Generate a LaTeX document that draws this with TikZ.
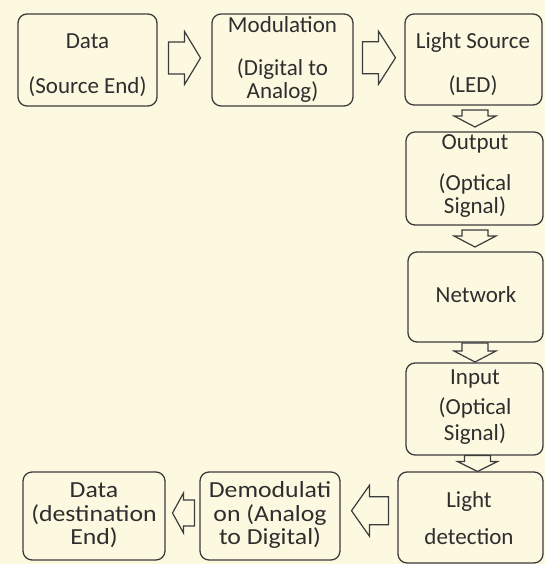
\documentclass[tikz,border=0pt]{standalone}
\usepackage{fontspec}
\setmainfont{Carlito}
\newfontfamily\widefont[FakeStretch=1.12]{Carlito}
\usetikzlibrary{calc}
\definecolor{bgc}{HTML}{FDF9E1}
\definecolor{linec}{HTML}{3C3C3C}
\definecolor{txtc}{HTML}{2E2E2E}
\tikzset{
  box/.style={draw=linec, line width=1.3pt, rounded corners=9pt, fill=bgc, inner sep=0pt, outer sep=0pt},
  txt/.style={anchor=base, inner sep=0pt, text=txtc, font=\fontsize{23}{27}\selectfont},
  txtw/.style={anchor=base, inner sep=0pt, text=txtc, font=\widefont\fontsize{23}{27}\selectfont},
  arrowline/.style={draw=linec, line width=1.2pt, fill=bgc, line join=miter},
  pics/barr/.style n args={4}{code={
    \draw[arrowline] ({-(#1+#2)/2},{-#3}) -- ({(#1-#2)/2},{-#3}) -- ({(#1-#2)/2},{-#4})
      -- ({(#1+#2)/2},0) -- ({(#1-#2)/2},{#4}) -- ({(#1-#2)/2},{#3}) -- ({-(#1+#2)/2},{#3}) -- cycle;}}
}
\begin{document}
\begin{tikzpicture}[x=1pt,y=1pt]
\fill[bgc] (0,0) rectangle (545,564);
\useasboundingbox (0,0) rectangle (545,564);
% boxes
\node[box, minimum width=139pt, minimum height=92pt] (src) at (87.5,504) {};
\node[box, minimum width=141pt, minimum height=92pt] (mod) at (282.5,504) {};
\node[box, minimum width=137pt, minimum height=91pt] (ls) at (473.5,504.5) {};
\node[box, minimum width=137pt, minimum height=93pt] (out) at (474.5,385.5) {};
\node[box, minimum width=135pt, minimum height=90pt] (net) at (475.5,267) {};
\node[box, minimum width=137pt, minimum height=92pt] (inp) at (474.5,155) {};
\node[box, minimum width=145pt, minimum height=91pt] (ld) at (470.5,46.5) {};
\node[box, minimum width=142pt, minimum height=88pt] (dd) at (94,48) {};
\node[box, minimum width=140pt, minimum height=88pt] (dm) at (270,48) {};
% texts
\node[txt] (srcA) at (87.5,515) {Data};
\node[txt] (srcB) at (87.5,470) {(Source End)};
\node[txt] (modA) at (282.5,531) {Modulation};
\node[txt] (modB) at (282.5,488) {(Digital to};
\node[txt] (modC) at (282.5,465) {Analog)};
\node[txt] (lsA) at (473,515) {Light Source};
\node[txt] (lsB) at (473,471) {(LED)};
\node[txt] (outA) at (475,414) {Output};
\node[txt] (outB) at (475,373) {(Optical};
\node[txt] (outC) at (475,350) {Signal)};
\node[txt] (netA) at (476,261) {Network};
\node[txt] (inpA) at (475,179) {Input};
\node[txt] (inpB) at (475,149) {(Optical};
\node[txt] (inpC) at (475,123) {Signal)};
\node[txt] (ldA) at (469,56) {Light};
\node[txt] (ldB) at (469,19) {detection};
\node[txtw] (ddA) at (94,66) {Data};
\node[txtw] (ddB) at (94,42) {(destination};
\node[txtw] (ddC) at (94,19) {End)};
\node[txtw] (dmA) at (270,66) {Demodulati};
\node[txtw] (dmB) at (270,42) {on (Analog};
\node[txtw] (dmC) at (270,19) {to Digital)};
% block arrows
\pic at ($(src.east)!0.5!(mod.west)+(0,2)$) {barr={16}{16}{16}{26.5}};
\pic at ($(mod.east)!0.5!(ls.west)+(0,2)$) {barr={16}{17}{16}{26.5}};
\pic[rotate=-90] at ($(ls.south)!0.5!(out.north)+(1,0)$) {barr={6}{11}{13}{21}};
\pic[rotate=-90] at ($(out.south)!0.5!(net.north)$) {barr={6}{11}{13}{21}};
\pic[rotate=-90] at ($(net.south)!0.5!(inp.north)$) {barr={8}{11}{13}{21}};
\pic[rotate=-90] at ($(inp.south)!0.5!(ld.north)+(5,0)$) {barr={6}{10}{13}{20}};
\pic[rotate=180] at ($(ld.west)!0.5!(dm.east)+(1,6)$) {barr={19}{18}{14}{25.5}};
\pic[rotate=180] at ($(dm.west)!0.5!(dd.east)+(1,3)$) {barr={11}{11}{13}{20}};
\end{tikzpicture}
\end{document}
